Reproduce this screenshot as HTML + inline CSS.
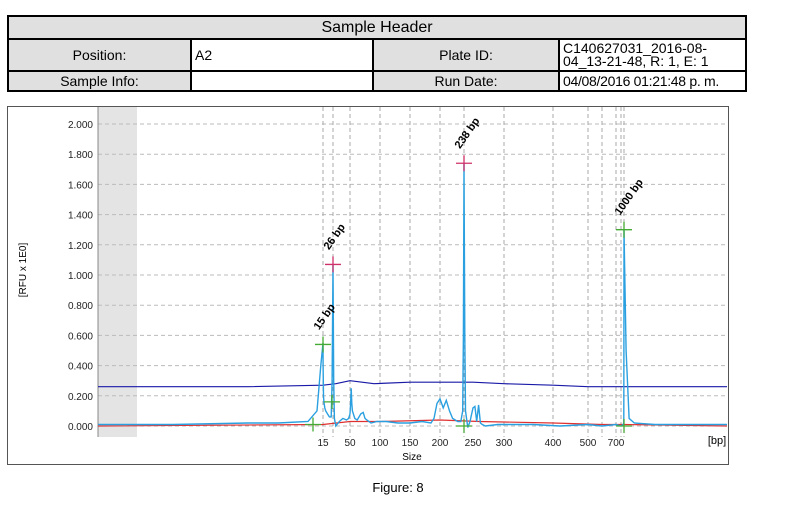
<!DOCTYPE html>
<html><head><meta charset="utf-8"><style>
body{margin:0;width:796px;height:508px;background:#fff;font-family:"Liberation Sans",sans-serif;overflow:hidden;position:relative}
table{position:absolute;left:7px;top:15px;width:738px;border-collapse:collapse;font-size:14px;table-layout:fixed}
td{border:2px solid #000;padding:0 3px;line-height:14px;white-space:nowrap;overflow:hidden}
.g{background:#e0e0e0;text-align:center}
</style></head><body>
<table>
<colgroup><col style="width:183px"><col style="width:182px"><col style="width:186px"><col style="width:187px"></colgroup>
<tr style="height:23px"><td colspan="4" class="g" style="font-size:16px">Sample Header</td></tr>
<tr style="height:32px"><td class="g">Position:</td><td>A2</td><td class="g">Plate ID:</td><td style="line-height:13px">C140627031_2016-08-<br>04_13-21-48, R: 1, E: 1</td></tr>
<tr style="height:20px"><td class="g">Sample Info:</td><td></td><td class="g">Run Date:</td><td style="letter-spacing:-0.3px">04/08/2016 01:21:48 p. m.</td></tr>
</table>
<svg id="c" width="796" height="508" style="position:absolute;left:0;top:0"></svg>
<div style="position:absolute;left:0;width:796px;top:480px;text-align:center;font-size:13px">Figure: 8</div>
<script>
const yTicks=[0,0.2,0.4,0.6,0.8,1.0,1.2,1.4,1.6,1.8,2.0];
const yTickLabels=["0.000","0.200","0.400","0.600","0.800","1.000","1.200","1.400","1.600","1.800","2.000"];
const xTickSizes=[15,50,100,150,200,250,300,400,500,700];
const gridSizes=[15,26,50,100,150,200,238,300,400,500,600,700,850,1000];
const signalBp=[0,5,10,12,14,14.6,14.85,15,15.15,15.5,16,17,18,20,22,24,25,26,27,28,30,35,40,45,48,50,51,52,53,54,58,62,68,72,75,78,85,95,110,130,150,170,185,190,195,200,205,210,215,220,228,233,236,237,238,239,240,243,246,250,253,256,259,262,265,270,290,320,360,420,500,600,700,850,960,990,996,1000,1004,1010,1020,1060,1100,1200];
const signalVal=[0.01,0.01,0.02,0.02,0.03,0.1,0.4,0.55,0.4,0.2,0.16,0.12,0.1,0.08,0.06,0.06,0.3,1.07,0.3,0.05,0.0,0.03,0.05,0.04,0.05,0.08,0.15,0.25,0.15,0.1,0.05,0.04,0.08,0.09,0.05,0.04,0.02,0.03,0.03,0.02,0.02,0.03,0.02,0.05,0.15,0.18,0.12,0.17,0.1,0.05,0.03,0.03,0.1,0.6,1.74,0.6,0.1,-0.01,0.03,0.12,0.13,0.03,0.14,0.02,0.01,0.0,0.01,0.01,0.01,0.0,0.01,0.0,0.01,0.0,0.01,0.02,0.5,1.30,0.5,0.05,0.02,0.01,0.01,0.01];
const baseBp=[0,10,15,30,50,90,150,250,300,400,500,600,1200];
const baseVal=[0.26,0.26,0.27,0.28,0.30,0.28,0.29,0.29,0.28,0.27,0.26,0.26,0.26];
const redBp=[0,15,50,100,200,260,400,600,1000,1200];
const redVal=[0.0,0.01,0.03,0.03,0.04,0.03,0.02,0.01,0.01,0.0];
const peakLabels=["15 bp","26 bp","238 bp","1000 bp"];
const peakBp=[15,26,238,1000];
const peakVal=[0.54,1.07,1.74,1.30];
const axBp=[0,15,26,50,100,150,200,238,250,300,400,500,600,700,850,1000,1200];
const axPx=[98,323,333,350,380,410,440,464,473,504,553,588,602,616,621,624,727];
function X(b){for(let i=1;i<axBp.length;i++){if(b<=axBp[i]){const t=(b-axBp[i-1])/(axBp[i]-axBp[i-1]);return axPx[i-1]+t*(axPx[i]-axPx[i-1]);}}return axPx[axPx.length-1];}
function Y(v){return 426-v*151;}
const s=document.getElementById('c');const NS='http://www.w3.org/2000/svg';
function mk(t,a,txt){const e=document.createElementNS(NS,t);for(const k in a)e.setAttribute(k,a[k]);if(txt!==undefined)e.textContent=txt;s.appendChild(e);return e;}
let e=mk('rect',{x:7.5,y:106.5,width:721,height:358,fill:'#fff',stroke:'#555'});


e=mk('rect',{x:98,y:107,width:39,height:330,fill:'#e4e4e4'});


yTicks.forEach((v,i)=>{
e=mk('line',{x1:98,x2:727,y1:Y(v),y2:Y(v),stroke:'#bbb','stroke-dasharray':'4,3'});


e=mk('text',{x:93,y:Y(v)+4,'text-anchor':'end','font-size':10,fill:'#222'},yTickLabels[i]);


});
gridSizes.forEach(b=>{
e=mk('line',{x1:X(b),x2:X(b),y1:107,y2:437,stroke:'#aaa','stroke-dasharray':'4,3'});


});
xTickSizes.forEach(b=>{
e=mk('text',{x:X(b),y:446,'text-anchor':'middle','font-size':10,fill:'#222'},String(b));


});
e=mk('line',{x1:98,x2:98,y1:107,y2:437,stroke:'#888'});


e=mk('text',{x:717,y:444,'text-anchor':'middle','font-size':11},'[bp]');


e=mk('text',{x:412,y:460,'text-anchor':'middle','font-size':10},'Size');


e=mk('text',{x:0,y:0,'text-anchor':'middle','font-size':10,transform:'translate(26,270) rotate(-90)'},'[RFU x 1E0]');


function pl(bp,val,col,w,name){const d=bp.map((b,i)=>(i?'L':'M')+X(b).toFixed(1)+','+Y(val[i]).toFixed(1)).join('');
const p=mk('path',{d:d,fill:'none',stroke:col,'stroke-width':w});

}
pl(baseBp,baseVal,'#1a1aa8',1.2,'baseline-series');
pl(redBp,redVal,'#e03030',1.2,'red-series');
pl(signalBp,signalVal,'#2aa0e0',1.4,'signal-series');
peakBp.forEach((b,i)=>{const x=X(b),y=Y(peakVal[i]);const col=(i==1||i==2)?'#d0306a':'#44aa33';
e=mk('path',{d:`M${x-8},${y}H${x+8}M${x},${y-8}V${y+8}`,stroke:col,'stroke-width':1.3});


e=mk('text',{x:0,y:0,'font-size':11,'font-weight':'bold',transform:`translate(${x-4},${y-14}) rotate(-55)`},peakLabels[i]);


});
[[313,0.01],[332,0.16],[464,0.0],[624,0.0]].forEach(p=>{
e=mk('path',{d:`M${p[0]-8},${Y(p[1])}H${p[0]+8}M${p[0]},${Y(p[1])-7}V${Y(p[1])+7}`,stroke:'#44aa33','stroke-width':1.3});


});
</script>
</body></html>
